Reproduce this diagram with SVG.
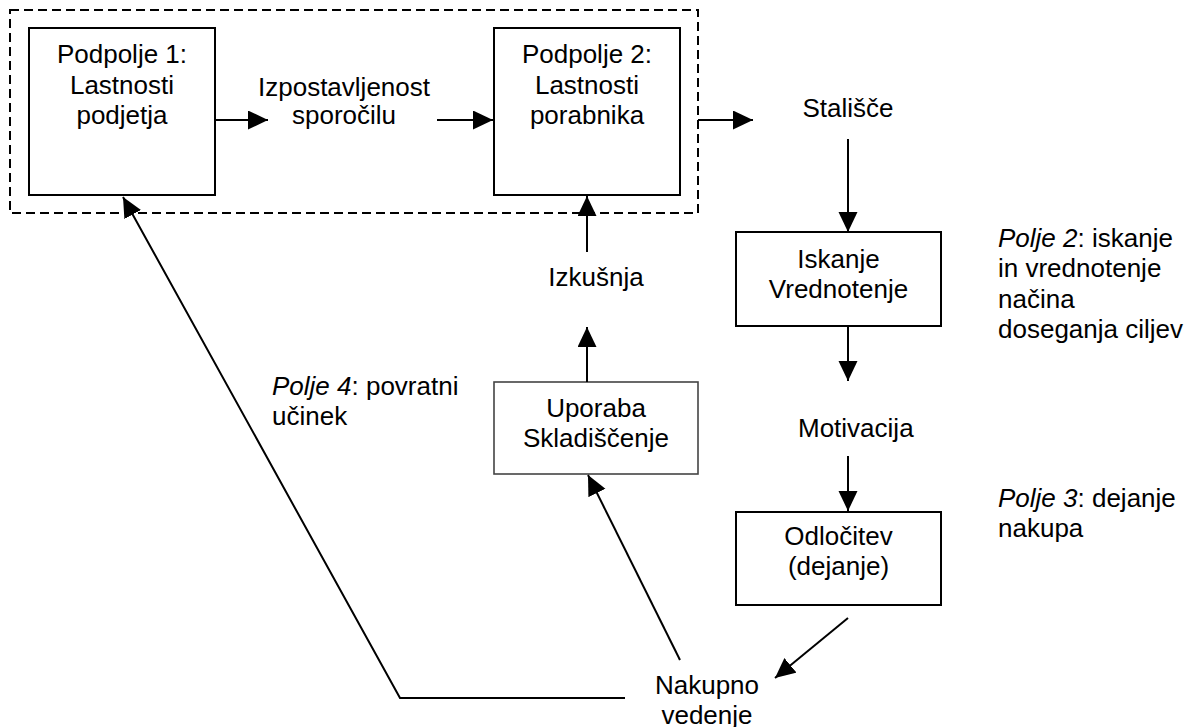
<svg xmlns="http://www.w3.org/2000/svg" width="1194" height="727" viewBox="0 0 1194 727">
  <style>
    text { font-family: "Liberation Sans", Arial, sans-serif; font-size: 26px; fill: #000; }
    .c { text-anchor: middle; }
    .box { fill: #fff; stroke: #000; stroke-width: 2; }
    .lite { stroke: #444; stroke-width: 1.6; }
    .link { fill: none; stroke: #000; stroke-width: 2; }
    .group { fill: none; stroke: #000; stroke-width: 2; stroke-dasharray: 9 5; }
    .it { font-style: italic; }
  </style>
  <defs>
    <marker id="arrow" markerUnits="userSpaceOnUse" markerWidth="20" markerHeight="20" refX="20" refY="9.5" orient="auto">
      <path d="M0,0 L20,9.5 L0,19 z" fill="#000"/>
    </marker>
  </defs>
  <rect width="1194" height="727" fill="#fff"/>

  <!-- dashed frame around both subfields -->
  <rect class="group" x="10" y="10" width="688" height="203"/>

  <g id="podpolje1">
    <rect class="box" x="29" y="28" width="186" height="167"/>
    <text class="c" x="122" y="63">Podpolje 1:</text>
    <text class="c" x="122" y="94">Lastnosti</text>
    <text class="c" x="122" y="124">podjetja</text>
  </g>

  <g id="izpostavljenost">
    <text class="c" x="344" y="96">Izpostavljenost</text>
    <text class="c" x="344" y="124">sporočilu</text>
  </g>

  <g id="podpolje2">
    <rect class="box" x="494" y="28" width="186" height="167"/>
    <text class="c" x="587" y="63">Podpolje 2:</text>
    <text class="c" x="587" y="94">Lastnosti</text>
    <text class="c" x="587" y="124">porabnika</text>
  </g>

  <g id="stalisce">
    <text class="c" x="848" y="117">Stališče</text>
  </g>

  <g id="iskanje">
    <rect class="box" x="736" y="232" width="205" height="94"/>
    <text class="c" x="838.5" y="268">Iskanje</text>
    <text class="c" x="838.5" y="298">Vrednotenje</text>
  </g>

  <g id="polje2">
    <text x="998" y="247"><tspan class="it">Polje 2</tspan>: iskanje</text>
    <text x="998" y="277">in vrednotenje</text>
    <text x="998" y="308">načina</text>
    <text x="998" y="338">doseganja ciljev</text>
  </g>

  <g id="motivacija">
    <text x="798" y="437">Motivacija</text>
  </g>

  <g id="odlocitev">
    <rect class="box" x="736" y="512" width="205" height="93"/>
    <text class="c" x="838.5" y="545">Odločitev</text>
    <text class="c" x="838.5" y="575">(dejanje)</text>
  </g>

  <g id="polje3">
    <text x="998" y="507"><tspan class="it">Polje 3</tspan>: dejanje</text>
    <text x="998" y="537">nakupa</text>
  </g>

  <g id="izkusnja">
    <text class="c" x="596" y="286">Izkušnja</text>
  </g>

  <g id="uporaba">
    <rect class="box lite" x="494" y="382" width="204" height="92"/>
    <text class="c" x="596" y="417">Uporaba</text>
    <text class="c" x="596" y="447">Skladiščenje</text>
  </g>

  <g id="polje4">
    <text x="272" y="395"><tspan class="it">Polje 4</tspan>: povratni</text>
    <text x="272" y="425">učinek</text>
  </g>

  <g id="nakupno">
    <text class="c" x="707" y="694">Nakupno</text>
    <text class="c" x="707" y="724">vedenje</text>
  </g>

  <g id="connectors">
    <line class="link" x1="215" y1="120" x2="268" y2="120" marker-end="url(#arrow)"/>
    <line class="link" x1="437" y1="120" x2="493" y2="120" marker-end="url(#arrow)"/>
    <line class="link" x1="698" y1="120" x2="753" y2="120" marker-end="url(#arrow)"/>
    <line class="link" x1="848" y1="139" x2="848" y2="232" marker-end="url(#arrow)"/>
    <line class="link" x1="848" y1="326" x2="848" y2="381" marker-end="url(#arrow)"/>
    <line class="link" x1="848" y1="456" x2="848" y2="511" marker-end="url(#arrow)"/>
    <line class="link" x1="848" y1="618" x2="775" y2="678" marker-end="url(#arrow)"/>
    <line class="link" x1="680" y1="660" x2="588" y2="475" marker-end="url(#arrow)"/>
    <line class="link" x1="587" y1="382" x2="587" y2="327" marker-end="url(#arrow)"/>
    <line class="link" x1="587" y1="252" x2="587" y2="196" marker-end="url(#arrow)"/>
    <polyline class="link" points="625,698 400,698 123,197" marker-end="url(#arrow)"/>
  </g>
</svg>
